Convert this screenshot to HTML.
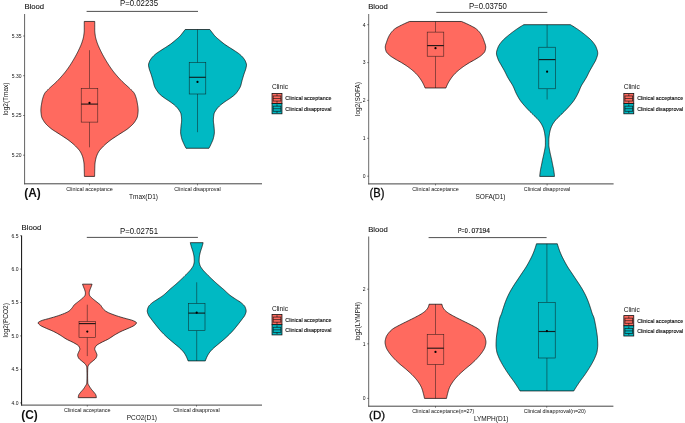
<!DOCTYPE html>
<html><head><meta charset="utf-8"><title>Violin plots</title>
<style>html,body{margin:0;padding:0;background:#fff}svg{display:block}text{font-family:"Liberation Sans",sans-serif;fill:#111}</style>
</head><body>
<svg width="685" height="423" viewBox="0 0 685 423">
<rect width="685" height="423" fill="#fff"/>
<g id="panelA">
<path d="M94.72,21.45 L94.72,22.20 L94.72,22.95 L94.72,23.70 L94.72,24.45 L94.72,25.20 L94.72,25.95 L94.72,26.70 L94.72,27.45 L94.72,28.20 L94.72,28.95 L94.72,29.70 L94.73,30.45 L94.75,31.20 L94.80,31.95 L94.87,32.70 L94.96,33.45 L95.05,34.20 L95.16,34.95 L95.27,35.70 L95.38,36.45 L95.52,37.20 L95.69,37.95 L95.88,38.70 L96.09,39.45 L96.31,40.20 L96.55,40.95 L96.79,41.70 L97.03,42.45 L97.30,43.20 L97.58,43.95 L97.87,44.70 L98.18,45.45 L98.51,46.20 L98.84,46.95 L99.18,47.70 L99.53,48.45 L99.89,49.20 L100.24,49.95 L100.60,50.70 L100.96,51.45 L101.34,52.20 L101.72,52.95 L102.11,53.70 L102.51,54.45 L102.91,55.20 L103.32,55.95 L103.74,56.70 L104.16,57.45 L104.59,58.20 L105.02,58.95 L105.46,59.70 L105.91,60.45 L106.36,61.20 L106.81,61.95 L107.28,62.70 L107.74,63.45 L108.22,64.20 L108.70,64.95 L109.20,65.70 L109.70,66.45 L110.21,67.20 L110.73,67.95 L111.26,68.70 L111.80,69.45 L112.35,70.20 L112.92,70.95 L113.50,71.70 L114.09,72.45 L114.70,73.20 L115.32,73.95 L115.96,74.70 L116.60,75.45 L117.26,76.20 L117.93,76.95 L118.60,77.70 L119.29,78.45 L119.99,79.20 L120.70,79.95 L121.42,80.70 L122.17,81.45 L122.95,82.20 L123.75,82.95 L124.57,83.70 L125.40,84.45 L126.24,85.20 L127.07,85.95 L127.90,86.70 L128.72,87.45 L129.51,88.20 L130.28,88.95 L131.03,89.70 L131.81,90.45 L132.58,91.20 L133.29,91.95 L133.89,92.70 L134.35,93.45 L134.75,94.20 L135.09,94.95 L135.39,95.70 L135.65,96.45 L135.90,97.20 L136.13,97.95 L136.35,98.70 L136.55,99.45 L136.73,100.20 L136.90,100.95 L137.05,101.70 L137.18,102.45 L137.31,103.20 L137.44,103.95 L137.57,104.70 L137.69,105.45 L137.80,106.20 L137.90,106.95 L137.99,107.70 L138.05,108.45 L138.09,109.20 L138.11,109.95 L138.11,110.70 L138.08,111.45 L138.02,112.20 L137.95,112.95 L137.87,113.70 L137.77,114.45 L137.66,115.20 L137.54,115.95 L137.39,116.70 L137.15,117.45 L136.84,118.20 L136.48,118.95 L136.06,119.70 L135.60,120.45 L135.12,121.20 L134.63,121.95 L134.10,122.70 L133.50,123.45 L132.83,124.20 L132.10,124.95 L131.31,125.70 L130.48,126.45 L129.62,127.20 L128.73,127.95 L127.81,128.70 L126.79,129.45 L125.69,130.20 L124.54,130.95 L123.35,131.70 L122.16,132.45 L120.96,133.20 L119.80,133.95 L118.67,134.70 L117.51,135.45 L116.34,136.20 L115.17,136.95 L114.01,137.70 L112.88,138.45 L111.79,139.20 L110.75,139.95 L109.77,140.70 L108.81,141.45 L107.87,142.20 L106.96,142.95 L106.08,143.70 L105.23,144.45 L104.42,145.20 L103.65,145.95 L102.92,146.70 L102.20,147.45 L101.48,148.20 L100.80,148.95 L100.15,149.70 L99.55,150.45 L99.00,151.20 L98.52,151.95 L98.11,152.70 L97.73,153.45 L97.37,154.20 L97.04,154.95 L96.74,155.70 L96.47,156.45 L96.22,157.20 L96.01,157.95 L95.83,158.70 L95.67,159.45 L95.50,160.20 L95.36,160.95 L95.22,161.70 L95.11,162.45 L95.02,163.20 L94.95,163.95 L94.90,164.70 L94.87,165.45 L94.84,166.20 L94.81,166.95 L94.79,167.70 L94.77,168.45 L94.75,169.20 L94.73,169.95 L94.71,170.70 L94.70,171.45 L94.68,172.20 L94.66,172.95 L94.65,173.70 L94.63,174.45 L94.62,175.20 L94.61,175.95 L94.60,176.40 L84.40,176.40 L84.39,175.95 L84.38,175.20 L84.37,174.45 L84.35,173.70 L84.34,172.95 L84.32,172.20 L84.30,171.45 L84.29,170.70 L84.27,169.95 L84.25,169.20 L84.23,168.45 L84.21,167.70 L84.19,166.95 L84.16,166.20 L84.13,165.45 L84.10,164.70 L84.05,163.95 L83.98,163.20 L83.89,162.45 L83.78,161.70 L83.64,160.95 L83.50,160.20 L83.33,159.45 L83.17,158.70 L82.99,157.95 L82.78,157.20 L82.53,156.45 L82.26,155.70 L81.96,154.95 L81.63,154.20 L81.27,153.45 L80.89,152.70 L80.48,151.95 L80.00,151.20 L79.45,150.45 L78.85,149.70 L78.20,148.95 L77.52,148.20 L76.80,147.45 L76.08,146.70 L75.35,145.95 L74.58,145.20 L73.77,144.45 L72.92,143.70 L72.04,142.95 L71.13,142.20 L70.19,141.45 L69.23,140.70 L68.25,139.95 L67.21,139.20 L66.12,138.45 L64.99,137.70 L63.83,136.95 L62.66,136.20 L61.49,135.45 L60.33,134.70 L59.20,133.95 L58.04,133.20 L56.84,132.45 L55.65,131.70 L54.46,130.95 L53.31,130.20 L52.21,129.45 L51.19,128.70 L50.27,127.95 L49.38,127.20 L48.52,126.45 L47.69,125.70 L46.90,124.95 L46.17,124.20 L45.50,123.45 L44.90,122.70 L44.37,121.95 L43.88,121.20 L43.40,120.45 L42.94,119.70 L42.52,118.95 L42.16,118.20 L41.85,117.45 L41.61,116.70 L41.46,115.95 L41.34,115.20 L41.23,114.45 L41.13,113.70 L41.05,112.95 L40.98,112.20 L40.92,111.45 L40.89,110.70 L40.89,109.95 L40.91,109.20 L40.95,108.45 L41.01,107.70 L41.10,106.95 L41.20,106.20 L41.31,105.45 L41.43,104.70 L41.56,103.95 L41.69,103.20 L41.82,102.45 L41.95,101.70 L42.10,100.95 L42.27,100.20 L42.45,99.45 L42.65,98.70 L42.87,97.95 L43.10,97.20 L43.35,96.45 L43.61,95.70 L43.91,94.95 L44.25,94.20 L44.65,93.45 L45.11,92.70 L45.71,91.95 L46.42,91.20 L47.19,90.45 L47.97,89.70 L48.72,88.95 L49.49,88.20 L50.28,87.45 L51.10,86.70 L51.93,85.95 L52.76,85.20 L53.60,84.45 L54.43,83.70 L55.25,82.95 L56.05,82.20 L56.83,81.45 L57.58,80.70 L58.30,79.95 L59.01,79.20 L59.71,78.45 L60.40,77.70 L61.07,76.95 L61.74,76.20 L62.40,75.45 L63.04,74.70 L63.68,73.95 L64.30,73.20 L64.91,72.45 L65.50,71.70 L66.08,70.95 L66.65,70.20 L67.20,69.45 L67.74,68.70 L68.27,67.95 L68.79,67.20 L69.30,66.45 L69.80,65.70 L70.30,64.95 L70.78,64.20 L71.26,63.45 L71.72,62.70 L72.19,61.95 L72.64,61.20 L73.09,60.45 L73.54,59.70 L73.98,58.95 L74.41,58.20 L74.84,57.45 L75.26,56.70 L75.68,55.95 L76.09,55.20 L76.49,54.45 L76.89,53.70 L77.28,52.95 L77.66,52.20 L78.04,51.45 L78.40,50.70 L78.76,49.95 L79.11,49.20 L79.47,48.45 L79.82,47.70 L80.16,46.95 L80.49,46.20 L80.82,45.45 L81.13,44.70 L81.42,43.95 L81.70,43.20 L81.97,42.45 L82.21,41.70 L82.45,40.95 L82.69,40.20 L82.91,39.45 L83.12,38.70 L83.31,37.95 L83.48,37.20 L83.62,36.45 L83.73,35.70 L83.84,34.95 L83.95,34.20 L84.04,33.45 L84.13,32.70 L84.20,31.95 L84.25,31.20 L84.27,30.45 L84.28,29.70 L84.28,28.95 L84.28,28.20 L84.28,27.45 L84.28,26.70 L84.28,25.95 L84.28,25.20 L84.28,24.45 L84.28,23.70 L84.28,22.95 L84.28,22.20 L84.28,21.45Z" fill="#FF6A5F" stroke="#111" stroke-width="0.75" stroke-linejoin="round"/>
<path d="M89.50,50.20V88.30M89.50,122.10V147.30" stroke="#111" stroke-width="0.55" fill="none" opacity="0.85"/>
<rect x="81.20" y="88.30" width="16.60" height="33.80" fill="#FF6A5F" stroke="#111" stroke-opacity="0.85" stroke-width="0.55"/>
<path d="M81.20,104.10H97.80" stroke="#111" stroke-width="1.15" fill="none" opacity="0.9"/>
<circle cx="89.50" cy="102.90" r="1.1" fill="#000"/>
<path d="M209.80,29.50 L210.37,30.25 L210.94,31.00 L211.52,31.75 L212.10,32.50 L212.67,33.25 L213.24,34.00 L213.82,34.75 L214.44,35.50 L215.13,36.25 L215.89,37.00 L216.70,37.75 L217.56,38.50 L218.44,39.25 L219.33,40.00 L220.21,40.75 L221.10,41.50 L222.01,42.25 L222.95,43.00 L223.92,43.75 L224.94,44.50 L226.03,45.25 L227.18,46.00 L228.37,46.75 L229.54,47.50 L230.72,48.25 L231.90,49.00 L233.09,49.75 L234.25,50.50 L235.38,51.25 L236.52,52.00 L237.64,52.75 L238.69,53.50 L239.64,54.25 L240.50,55.00 L241.31,55.75 L242.06,56.50 L242.76,57.25 L243.37,58.00 L243.92,58.75 L244.44,59.50 L244.90,60.25 L245.30,61.00 L245.62,61.75 L245.90,62.50 L246.17,63.25 L246.38,64.00 L246.49,64.75 L246.48,65.50 L246.37,66.25 L246.22,67.00 L246.03,67.75 L245.86,68.50 L245.65,69.25 L245.42,70.00 L245.16,70.75 L244.89,71.50 L244.61,72.25 L244.34,73.00 L244.08,73.75 L243.84,74.50 L243.60,75.25 L243.37,76.00 L243.14,76.75 L242.91,77.50 L242.69,78.25 L242.47,79.00 L242.26,79.75 L242.04,80.50 L241.85,81.25 L241.67,82.00 L241.49,82.75 L241.32,83.50 L241.13,84.25 L240.92,85.00 L240.69,85.75 L240.43,86.50 L240.09,87.25 L239.70,88.00 L239.26,88.75 L238.80,89.50 L238.32,90.25 L237.83,91.00 L237.31,91.75 L236.76,92.50 L236.15,93.25 L235.48,94.00 L234.72,94.75 L233.84,95.50 L232.88,96.25 L231.87,97.00 L230.84,97.75 L229.79,98.50 L228.67,99.25 L227.50,100.00 L226.33,100.75 L225.20,101.50 L224.15,102.25 L223.13,103.00 L222.13,103.75 L221.18,104.50 L220.28,105.25 L219.47,106.00 L218.72,106.75 L218.01,107.50 L217.35,108.25 L216.74,109.00 L216.20,109.75 L215.72,110.50 L215.25,111.25 L214.80,112.00 L214.42,112.75 L214.12,113.50 L213.95,114.25 L213.82,115.00 L213.71,115.75 L213.61,116.50 L213.53,117.25 L213.46,118.00 L213.41,118.75 L213.38,119.50 L213.37,120.25 L213.40,121.00 L213.45,121.75 L213.53,122.50 L213.62,123.25 L213.72,124.00 L213.82,124.75 L213.91,125.50 L213.98,126.25 L214.04,127.00 L214.11,127.75 L214.18,128.50 L214.24,129.25 L214.29,130.00 L214.34,130.75 L214.37,131.50 L214.37,132.25 L214.35,133.00 L214.28,133.75 L214.17,134.50 L214.04,135.25 L213.88,136.00 L213.72,136.75 L213.54,137.50 L213.36,138.25 L213.16,139.00 L212.91,139.75 L212.63,140.50 L212.31,141.25 L211.98,142.00 L211.64,142.75 L211.29,143.50 L210.95,144.25 L210.61,145.00 L210.25,145.75 L209.87,146.50 L209.49,147.25 L209.09,148.00 L208.95,148.26 L186.05,148.26 L185.91,148.00 L185.51,147.25 L185.13,146.50 L184.75,145.75 L184.39,145.00 L184.05,144.25 L183.71,143.50 L183.36,142.75 L183.02,142.00 L182.69,141.25 L182.37,140.50 L182.09,139.75 L181.84,139.00 L181.64,138.25 L181.46,137.50 L181.28,136.75 L181.12,136.00 L180.96,135.25 L180.83,134.50 L180.72,133.75 L180.65,133.00 L180.63,132.25 L180.63,131.50 L180.66,130.75 L180.71,130.00 L180.76,129.25 L180.82,128.50 L180.89,127.75 L180.96,127.00 L181.02,126.25 L181.09,125.50 L181.18,124.75 L181.28,124.00 L181.38,123.25 L181.47,122.50 L181.55,121.75 L181.60,121.00 L181.63,120.25 L181.62,119.50 L181.59,118.75 L181.54,118.00 L181.47,117.25 L181.39,116.50 L181.29,115.75 L181.18,115.00 L181.05,114.25 L180.88,113.50 L180.58,112.75 L180.20,112.00 L179.75,111.25 L179.28,110.50 L178.80,109.75 L178.26,109.00 L177.65,108.25 L176.99,107.50 L176.28,106.75 L175.53,106.00 L174.72,105.25 L173.82,104.50 L172.87,103.75 L171.87,103.00 L170.85,102.25 L169.80,101.50 L168.67,100.75 L167.50,100.00 L166.33,99.25 L165.21,98.50 L164.16,97.75 L163.13,97.00 L162.12,96.25 L161.16,95.50 L160.28,94.75 L159.52,94.00 L158.85,93.25 L158.24,92.50 L157.69,91.75 L157.17,91.00 L156.68,90.25 L156.20,89.50 L155.74,88.75 L155.30,88.00 L154.91,87.25 L154.57,86.50 L154.31,85.75 L154.08,85.00 L153.87,84.25 L153.68,83.50 L153.51,82.75 L153.33,82.00 L153.15,81.25 L152.96,80.50 L152.74,79.75 L152.53,79.00 L152.31,78.25 L152.09,77.50 L151.86,76.75 L151.63,76.00 L151.40,75.25 L151.16,74.50 L150.92,73.75 L150.66,73.00 L150.39,72.25 L150.11,71.50 L149.84,70.75 L149.58,70.00 L149.35,69.25 L149.14,68.50 L148.97,67.75 L148.78,67.00 L148.63,66.25 L148.52,65.50 L148.51,64.75 L148.62,64.00 L148.83,63.25 L149.10,62.50 L149.38,61.75 L149.70,61.00 L150.10,60.25 L150.56,59.50 L151.08,58.75 L151.63,58.00 L152.24,57.25 L152.94,56.50 L153.69,55.75 L154.50,55.00 L155.36,54.25 L156.31,53.50 L157.36,52.75 L158.48,52.00 L159.62,51.25 L160.75,50.50 L161.91,49.75 L163.10,49.00 L164.28,48.25 L165.46,47.50 L166.63,46.75 L167.82,46.00 L168.97,45.25 L170.06,44.50 L171.08,43.75 L172.05,43.00 L172.99,42.25 L173.90,41.50 L174.79,40.75 L175.67,40.00 L176.56,39.25 L177.44,38.50 L178.30,37.75 L179.11,37.00 L179.87,36.25 L180.56,35.50 L181.18,34.75 L181.76,34.00 L182.33,33.25 L182.90,32.50 L183.48,31.75 L184.06,31.00 L184.63,30.25 L185.20,29.50Z" fill="#00B9C3" stroke="#111" stroke-width="0.75" stroke-linejoin="round"/>
<path d="M197.50,29.50V62.60M197.50,94.00V132.20" stroke="#111" stroke-width="0.55" fill="none" opacity="0.85"/>
<rect x="189.20" y="62.60" width="16.60" height="31.40" fill="#00B9C3" stroke="#111" stroke-opacity="0.85" stroke-width="0.55"/>
<path d="M189.20,77.30H205.80" stroke="#111" stroke-width="1.15" fill="none" opacity="0.9"/>
<circle cx="197.50" cy="81.90" r="1.1" fill="#000"/>
<path d="M24.6,14.0V184.3" stroke="#3a3a3a" stroke-width="0.8" fill="none"/>
<path d="M24.200000000000003,183.8H262.0" stroke="#444" stroke-width="1.0" fill="none"/>
<path d="M23.00,36.0H24.6" stroke="#1a1a1a" stroke-width="0.5"/>
<text x="21.50" y="37.80" font-size="5" text-anchor="end" fill="#333">5.35</text>
<path d="M23.00,75.7H24.6" stroke="#1a1a1a" stroke-width="0.5"/>
<text x="21.50" y="77.50" font-size="5" text-anchor="end" fill="#333">5.30</text>
<path d="M23.00,115.5H24.6" stroke="#1a1a1a" stroke-width="0.5"/>
<text x="21.50" y="117.30" font-size="5" text-anchor="end" fill="#333">5.25</text>
<path d="M23.00,155.2H24.6" stroke="#1a1a1a" stroke-width="0.5"/>
<text x="21.50" y="157.00" font-size="5" text-anchor="end" fill="#333">5.20</text>
<path d="M89.5,183.8v1.6" stroke="#1a1a1a" stroke-width="0.5"/>
<path d="M197.5,183.8v1.6" stroke="#1a1a1a" stroke-width="0.5"/>
<text x="89.5" y="190.80" font-size="5.4" text-anchor="middle" fill="#333">Clinical acceptance</text>
<text x="197.5" y="190.80" font-size="5.4" text-anchor="middle" fill="#333">Clinical disapproval</text>
<text x="24.40" y="9.0" font-size="8.1" textLength="19.7" lengthAdjust="spacingAndGlyphs" fill="#000" stroke="#000" stroke-width="0.1">Blood</text>
<text x="120.00" y="6.4" font-size="8.8" textLength="38.0" lengthAdjust="spacingAndGlyphs" fill="#000">P=0.02235</text>
<path d="M86.6,11.4H198.0" stroke="#222" stroke-width="0.8"/>
<text transform="translate(8.2,98.90) rotate(-90)" font-size="6.5" text-anchor="middle" fill="#000">log2(Tmax)</text>
<text x="143.5" y="198.7" font-size="6.5" text-anchor="middle" fill="#000">Tmax(D1)</text>
<text x="24.2" y="197.4" font-size="11.9" font-weight="bold" fill="#000" stroke="#000" stroke-width="0">(A)</text>
<text x="271.9" y="89.4" font-size="7.3" textLength="16.1" lengthAdjust="spacingAndGlyphs" fill="#000">Clinic</text>
<rect x="272.05" y="93.40" width="9.9" height="10.2" fill="#FF6A5F" stroke="#111" stroke-width="0.8"/>
<rect x="273.15" y="95.95" width="7.70" height="5.10" fill="none" stroke="#111" stroke-width="0.75" opacity="0.85"/>
<path d="M273.15,98.50h7.70M277.00,94.20V95.95M277.00,101.05V102.80" stroke="#111" stroke-width="0.75" fill="none" opacity="0.85"/>
<text x="285.35" y="100.40" font-size="5.35" fill="#000" stroke="#000" stroke-width="0.12">Clinical acceptance</text>
<rect x="272.05" y="103.60" width="9.9" height="10.2" fill="#00B9C3" stroke="#111" stroke-width="0.8"/>
<rect x="273.15" y="106.15" width="7.70" height="5.10" fill="none" stroke="#111" stroke-width="0.75" opacity="0.85"/>
<path d="M273.15,108.70h7.70M277.00,104.40V106.15M277.00,111.25V113.00" stroke="#111" stroke-width="0.75" fill="none" opacity="0.85"/>
<text x="285.35" y="110.60" font-size="5.35" fill="#000" stroke="#000" stroke-width="0.12">Clinical disapproval</text>
</g>
<g id="panelB">
<path d="M461.41,21.47 L463.22,22.22 L464.96,22.97 L466.62,23.72 L468.21,24.47 L469.71,25.22 L471.20,25.97 L472.67,26.72 L474.05,27.47 L475.29,28.22 L476.32,28.97 L477.17,29.72 L477.95,30.47 L478.66,31.22 L479.31,31.97 L479.91,32.72 L480.46,33.47 L480.95,34.22 L481.41,34.97 L481.83,35.72 L482.22,36.47 L482.58,37.22 L482.91,37.97 L483.23,38.72 L483.52,39.47 L483.79,40.22 L484.05,40.97 L484.31,41.72 L484.57,42.47 L484.84,43.22 L485.10,43.97 L485.33,44.72 L485.52,45.47 L485.65,46.22 L485.72,46.97 L485.70,47.72 L485.62,48.47 L485.48,49.22 L485.29,49.97 L485.07,50.72 L484.82,51.47 L484.40,52.22 L483.81,52.97 L483.10,53.72 L482.31,54.47 L481.50,55.22 L480.59,55.97 L479.54,56.72 L478.37,57.47 L477.15,58.22 L475.91,58.97 L474.67,59.72 L473.36,60.47 L472.01,61.22 L470.65,61.97 L469.33,62.72 L468.10,63.47 L466.91,64.22 L465.75,64.97 L464.62,65.72 L463.54,66.47 L462.49,67.22 L461.48,67.97 L460.49,68.72 L459.54,69.47 L458.63,70.22 L457.76,70.97 L456.92,71.72 L456.12,72.47 L455.34,73.22 L454.60,73.97 L453.90,74.72 L453.24,75.47 L452.62,76.22 L452.04,76.97 L451.48,77.72 L450.95,78.47 L450.44,79.22 L449.94,79.97 L449.46,80.72 L449.00,81.47 L448.56,82.22 L448.15,82.97 L447.77,83.72 L447.40,84.47 L447.05,85.22 L446.72,85.97 L446.41,86.72 L446.12,87.47 L445.95,87.97 L425.05,87.97 L424.88,87.47 L424.59,86.72 L424.28,85.97 L423.95,85.22 L423.60,84.47 L423.23,83.72 L422.85,82.97 L422.44,82.22 L422.00,81.47 L421.54,80.72 L421.06,79.97 L420.56,79.22 L420.05,78.47 L419.52,77.72 L418.96,76.97 L418.38,76.22 L417.76,75.47 L417.10,74.72 L416.40,73.97 L415.66,73.22 L414.88,72.47 L414.08,71.72 L413.24,70.97 L412.37,70.22 L411.46,69.47 L410.51,68.72 L409.52,67.97 L408.51,67.22 L407.46,66.47 L406.38,65.72 L405.25,64.97 L404.09,64.22 L402.90,63.47 L401.67,62.72 L400.35,61.97 L398.99,61.22 L397.64,60.47 L396.33,59.72 L395.09,58.97 L393.85,58.22 L392.63,57.47 L391.46,56.72 L390.41,55.97 L389.50,55.22 L388.69,54.47 L387.90,53.72 L387.19,52.97 L386.60,52.22 L386.18,51.47 L385.93,50.72 L385.71,49.97 L385.52,49.22 L385.38,48.47 L385.30,47.72 L385.28,46.97 L385.35,46.22 L385.48,45.47 L385.67,44.72 L385.90,43.97 L386.16,43.22 L386.43,42.47 L386.69,41.72 L386.95,40.97 L387.21,40.22 L387.48,39.47 L387.77,38.72 L388.09,37.97 L388.42,37.22 L388.78,36.47 L389.17,35.72 L389.59,34.97 L390.05,34.22 L390.54,33.47 L391.09,32.72 L391.69,31.97 L392.34,31.22 L393.05,30.47 L393.83,29.72 L394.68,28.97 L395.71,28.22 L396.95,27.47 L398.33,26.72 L399.80,25.97 L401.29,25.22 L402.79,24.47 L404.38,23.72 L406.04,22.97 L407.78,22.22 L409.59,21.47Z" fill="#FF6A5F" stroke="#111" stroke-width="0.75" stroke-linejoin="round"/>
<path d="M435.50,21.50V32.10M435.50,56.20V88.00" stroke="#111" stroke-width="0.55" fill="none" opacity="0.85"/>
<rect x="427.20" y="32.10" width="16.60" height="24.10" fill="#FF6A5F" stroke="#111" stroke-opacity="0.85" stroke-width="0.55"/>
<path d="M427.20,45.60H443.80" stroke="#111" stroke-width="1.15" fill="none" opacity="0.9"/>
<circle cx="435.50" cy="48.20" r="1.1" fill="#000"/>
<path d="M570.40,24.69 L571.67,25.44 L572.91,26.19 L574.12,26.94 L575.30,27.69 L576.44,28.44 L577.55,29.19 L578.63,29.94 L579.69,30.69 L580.72,31.44 L581.73,32.19 L582.72,32.94 L583.68,33.69 L584.62,34.44 L585.53,35.19 L586.44,35.94 L587.35,36.69 L588.24,37.44 L589.11,38.19 L589.95,38.94 L590.73,39.69 L591.46,40.44 L592.12,41.19 L592.74,41.94 L593.34,42.69 L593.91,43.44 L594.46,44.19 L594.95,44.94 L595.40,45.69 L595.79,46.44 L596.12,47.19 L596.40,47.94 L596.69,48.69 L596.96,49.44 L597.20,50.19 L597.41,50.94 L597.58,51.69 L597.68,52.44 L597.72,53.19 L597.69,53.94 L597.58,54.69 L597.41,55.44 L597.20,56.19 L596.95,56.94 L596.68,57.69 L596.41,58.44 L596.13,59.19 L595.84,59.94 L595.50,60.69 L595.11,61.44 L594.69,62.19 L594.26,62.94 L593.81,63.69 L593.37,64.44 L592.94,65.19 L592.53,65.94 L592.10,66.69 L591.67,67.44 L591.23,68.19 L590.80,68.94 L590.37,69.69 L589.95,70.44 L589.54,71.19 L589.15,71.94 L588.78,72.69 L588.41,73.44 L588.05,74.19 L587.69,74.94 L587.32,75.69 L586.94,76.44 L586.55,77.19 L586.12,77.94 L585.67,78.69 L585.21,79.44 L584.75,80.19 L584.29,80.94 L583.82,81.69 L583.33,82.44 L582.85,83.19 L582.38,83.94 L581.93,84.69 L581.50,85.44 L581.11,86.19 L580.75,86.94 L580.41,87.69 L580.09,88.44 L579.79,89.19 L579.48,89.94 L579.18,90.69 L578.87,91.44 L578.54,92.19 L578.18,92.94 L577.81,93.69 L577.44,94.44 L577.05,95.19 L576.65,95.94 L576.24,96.69 L575.82,97.44 L575.38,98.19 L574.92,98.94 L574.44,99.69 L573.94,100.44 L573.40,101.19 L572.83,101.94 L572.24,102.69 L571.63,103.44 L571.00,104.19 L570.35,104.94 L569.69,105.69 L569.02,106.44 L568.35,107.19 L567.68,107.94 L566.99,108.69 L566.27,109.44 L565.54,110.19 L564.80,110.94 L564.05,111.69 L563.29,112.44 L562.53,113.19 L561.77,113.94 L561.01,114.69 L560.26,115.44 L559.48,116.19 L558.68,116.94 L557.90,117.69 L557.13,118.44 L556.41,119.19 L555.75,119.94 L555.14,120.69 L554.56,121.44 L554.00,122.19 L553.47,122.94 L552.99,123.69 L552.55,124.44 L552.16,125.19 L551.79,125.94 L551.45,126.69 L551.13,127.44 L550.84,128.19 L550.59,128.94 L550.36,129.69 L550.16,130.44 L549.98,131.19 L549.81,131.94 L549.66,132.69 L549.52,133.44 L549.40,134.19 L549.30,134.94 L549.19,135.69 L549.09,136.44 L548.99,137.19 L548.90,137.94 L548.84,138.69 L548.80,139.44 L548.80,140.19 L548.80,140.94 L548.80,141.69 L548.80,142.44 L548.80,143.19 L548.80,143.94 L548.80,144.69 L548.82,145.44 L548.89,146.19 L548.99,146.94 L549.11,147.69 L549.25,148.44 L549.39,149.19 L549.52,149.94 L549.66,150.69 L549.80,151.44 L549.96,152.19 L550.12,152.94 L550.28,153.69 L550.44,154.44 L550.61,155.19 L550.77,155.94 L550.95,156.69 L551.12,157.44 L551.30,158.19 L551.47,158.94 L551.63,159.69 L551.79,160.44 L551.95,161.19 L552.10,161.94 L552.24,162.69 L552.39,163.44 L552.54,164.19 L552.69,164.94 L552.84,165.69 L553.00,166.44 L553.16,167.19 L553.32,167.94 L553.47,168.69 L553.61,169.44 L553.73,170.19 L553.84,170.94 L553.95,171.69 L554.06,172.44 L554.16,173.19 L554.25,173.94 L554.33,174.69 L554.41,175.44 L554.48,176.19 L554.50,176.40 L539.70,176.40 L539.72,176.19 L539.79,175.44 L539.87,174.69 L539.95,173.94 L540.04,173.19 L540.14,172.44 L540.25,171.69 L540.36,170.94 L540.47,170.19 L540.59,169.44 L540.73,168.69 L540.88,167.94 L541.04,167.19 L541.20,166.44 L541.36,165.69 L541.51,164.94 L541.66,164.19 L541.81,163.44 L541.96,162.69 L542.10,161.94 L542.25,161.19 L542.41,160.44 L542.57,159.69 L542.73,158.94 L542.90,158.19 L543.08,157.44 L543.25,156.69 L543.43,155.94 L543.59,155.19 L543.76,154.44 L543.92,153.69 L544.08,152.94 L544.24,152.19 L544.40,151.44 L544.54,150.69 L544.68,149.94 L544.81,149.19 L544.95,148.44 L545.09,147.69 L545.21,146.94 L545.31,146.19 L545.38,145.44 L545.40,144.69 L545.40,143.94 L545.40,143.19 L545.40,142.44 L545.40,141.69 L545.40,140.94 L545.40,140.19 L545.40,139.44 L545.36,138.69 L545.30,137.94 L545.21,137.19 L545.11,136.44 L545.01,135.69 L544.90,134.94 L544.80,134.19 L544.68,133.44 L544.54,132.69 L544.39,131.94 L544.22,131.19 L544.04,130.44 L543.84,129.69 L543.61,128.94 L543.36,128.19 L543.07,127.44 L542.75,126.69 L542.41,125.94 L542.04,125.19 L541.65,124.44 L541.21,123.69 L540.73,122.94 L540.20,122.19 L539.64,121.44 L539.06,120.69 L538.45,119.94 L537.79,119.19 L537.07,118.44 L536.30,117.69 L535.52,116.94 L534.72,116.19 L533.94,115.44 L533.19,114.69 L532.43,113.94 L531.67,113.19 L530.91,112.44 L530.15,111.69 L529.40,110.94 L528.66,110.19 L527.93,109.44 L527.21,108.69 L526.52,107.94 L525.85,107.19 L525.18,106.44 L524.51,105.69 L523.85,104.94 L523.20,104.19 L522.57,103.44 L521.96,102.69 L521.37,101.94 L520.80,101.19 L520.26,100.44 L519.76,99.69 L519.28,98.94 L518.82,98.19 L518.38,97.44 L517.96,96.69 L517.55,95.94 L517.15,95.19 L516.76,94.44 L516.39,93.69 L516.02,92.94 L515.66,92.19 L515.33,91.44 L515.02,90.69 L514.72,89.94 L514.41,89.19 L514.11,88.44 L513.79,87.69 L513.45,86.94 L513.09,86.19 L512.70,85.44 L512.27,84.69 L511.82,83.94 L511.35,83.19 L510.87,82.44 L510.38,81.69 L509.91,80.94 L509.45,80.19 L508.99,79.44 L508.53,78.69 L508.08,77.94 L507.65,77.19 L507.26,76.44 L506.88,75.69 L506.51,74.94 L506.15,74.19 L505.79,73.44 L505.42,72.69 L505.05,71.94 L504.66,71.19 L504.25,70.44 L503.83,69.69 L503.40,68.94 L502.97,68.19 L502.53,67.44 L502.10,66.69 L501.67,65.94 L501.26,65.19 L500.83,64.44 L500.39,63.69 L499.94,62.94 L499.51,62.19 L499.09,61.44 L498.70,60.69 L498.36,59.94 L498.07,59.19 L497.79,58.44 L497.52,57.69 L497.25,56.94 L497.00,56.19 L496.79,55.44 L496.62,54.69 L496.51,53.94 L496.48,53.19 L496.52,52.44 L496.62,51.69 L496.79,50.94 L497.00,50.19 L497.24,49.44 L497.51,48.69 L497.80,47.94 L498.08,47.19 L498.41,46.44 L498.80,45.69 L499.25,44.94 L499.74,44.19 L500.29,43.44 L500.86,42.69 L501.46,41.94 L502.08,41.19 L502.74,40.44 L503.47,39.69 L504.25,38.94 L505.09,38.19 L505.96,37.44 L506.85,36.69 L507.76,35.94 L508.67,35.19 L509.58,34.44 L510.52,33.69 L511.48,32.94 L512.47,32.19 L513.48,31.44 L514.51,30.69 L515.57,29.94 L516.65,29.19 L517.76,28.44 L518.90,27.69 L520.08,26.94 L521.29,26.19 L522.53,25.44 L523.80,24.69Z" fill="#00B9C3" stroke="#111" stroke-width="0.75" stroke-linejoin="round"/>
<path d="M547.10,24.70V47.20M547.10,88.80V99.50" stroke="#111" stroke-width="0.55" fill="none" opacity="0.85"/>
<rect x="538.80" y="47.20" width="16.60" height="41.60" fill="#00B9C3" stroke="#111" stroke-opacity="0.85" stroke-width="0.55"/>
<path d="M538.80,59.60H555.40" stroke="#111" stroke-width="1.15" fill="none" opacity="0.9"/>
<circle cx="547.10" cy="71.70" r="1.1" fill="#000"/>
<path d="M368.7,14.0V184.4" stroke="#444" stroke-width="0.8" fill="none"/>
<path d="M368.3,183.9H613.6" stroke="#444" stroke-width="1.0" fill="none"/>
<path d="M367.10,24.7H368.7" stroke="#1a1a1a" stroke-width="0.5"/>
<text x="365.60" y="26.50" font-size="5" text-anchor="end" fill="#333">4</text>
<path d="M367.10,62.6H368.7" stroke="#1a1a1a" stroke-width="0.5"/>
<text x="365.60" y="64.40" font-size="5" text-anchor="end" fill="#333">3</text>
<path d="M367.10,100.4H368.7" stroke="#1a1a1a" stroke-width="0.5"/>
<text x="365.60" y="102.20" font-size="5" text-anchor="end" fill="#333">2</text>
<path d="M367.10,138.3H368.7" stroke="#1a1a1a" stroke-width="0.5"/>
<text x="365.60" y="140.10" font-size="5" text-anchor="end" fill="#333">1</text>
<path d="M367.10,176.2H368.7" stroke="#1a1a1a" stroke-width="0.5"/>
<text x="365.60" y="178.00" font-size="5" text-anchor="end" fill="#333">0</text>
<path d="M435.5,183.9v1.6" stroke="#1a1a1a" stroke-width="0.5"/>
<path d="M547.1,183.9v1.6" stroke="#1a1a1a" stroke-width="0.5"/>
<text x="435.5" y="190.80" font-size="5.4" text-anchor="middle" fill="#333">Clinical acceptance</text>
<text x="547.1" y="190.80" font-size="5.4" text-anchor="middle" fill="#333">Clinical disapproval</text>
<text x="368.20" y="9.0" font-size="8.1" textLength="19.7" lengthAdjust="spacingAndGlyphs" fill="#000" stroke="#000" stroke-width="0.1">Blood</text>
<text x="468.90" y="9.0" font-size="8.8" textLength="38.0" lengthAdjust="spacingAndGlyphs" fill="#000">P=0.03750</text>
<path d="M436.3,12.4H547.3" stroke="#222" stroke-width="0.8"/>
<text transform="translate(359.8,98.95) rotate(-90)" font-size="6.5" text-anchor="middle" fill="#000">log2(SOFA)</text>
<text x="490.5" y="198.7" font-size="6.5" text-anchor="middle" fill="#000">SOFA(D1)</text>
<text x="369.5" y="196.6" font-size="11.9" font-weight="normal" textLength="14.9" lengthAdjust="spacingAndGlyphs" fill="#000" stroke="#000" stroke-width="0.3">(B)</text>
<text x="623.7" y="89.4" font-size="7.3" textLength="16.1" lengthAdjust="spacingAndGlyphs" fill="#000">Clinic</text>
<rect x="623.85" y="93.40" width="9.9" height="10.2" fill="#FF6A5F" stroke="#111" stroke-width="0.8"/>
<rect x="624.95" y="95.95" width="7.70" height="5.10" fill="none" stroke="#111" stroke-width="0.75" opacity="0.85"/>
<path d="M624.95,98.50h7.70M628.80,94.20V95.95M628.80,101.05V102.80" stroke="#111" stroke-width="0.75" fill="none" opacity="0.85"/>
<text x="637.15" y="100.40" font-size="5.35" fill="#000" stroke="#000" stroke-width="0.12">Clinical acceptance</text>
<rect x="623.85" y="103.60" width="9.9" height="10.2" fill="#00B9C3" stroke="#111" stroke-width="0.8"/>
<rect x="624.95" y="106.15" width="7.70" height="5.10" fill="none" stroke="#111" stroke-width="0.75" opacity="0.85"/>
<path d="M624.95,108.70h7.70M628.80,104.40V106.15M628.80,111.25V113.00" stroke="#111" stroke-width="0.75" fill="none" opacity="0.85"/>
<text x="637.15" y="110.60" font-size="5.35" fill="#000" stroke="#000" stroke-width="0.12">Clinical disapproval</text>
</g>
<g id="panelC">
<path d="M92.07,284.17 L91.81,284.92 L91.54,285.67 L91.27,286.42 L90.99,287.17 L90.67,287.92 L90.35,288.67 L90.05,289.42 L89.81,290.17 L89.57,290.92 L89.36,291.67 L89.22,292.42 L89.19,293.17 L89.25,293.92 L89.35,294.67 L89.57,295.42 L90.09,296.17 L90.71,296.92 L91.45,297.67 L92.33,298.42 L93.22,299.17 L94.16,299.92 L95.11,300.67 L96.05,301.42 L96.99,302.17 L97.93,302.92 L98.94,303.67 L99.89,304.42 L100.60,305.17 L101.11,305.92 L101.60,306.67 L102.13,307.42 L102.68,308.17 L103.29,308.92 L103.96,309.67 L104.74,310.42 L105.71,311.17 L106.98,311.92 L108.45,312.67 L110.12,313.42 L112.04,314.17 L114.06,314.92 L116.19,315.67 L118.46,316.42 L120.90,317.17 L123.55,317.92 L126.22,318.67 L129.03,319.42 L131.78,320.17 L133.72,320.92 L135.29,321.67 L136.35,322.42 L136.45,323.17 L135.95,323.92 L135.15,324.67 L134.26,325.42 L133.01,326.17 L131.44,326.92 L129.74,327.67 L128.07,328.42 L126.32,329.17 L124.49,329.92 L122.71,330.67 L121.10,331.42 L119.61,332.17 L118.21,332.92 L116.87,333.67 L115.57,334.42 L114.31,335.17 L113.15,335.92 L112.04,336.67 L110.93,337.42 L109.79,338.17 L108.56,338.92 L107.17,339.67 L105.64,340.42 L104.03,341.17 L102.46,341.92 L101.00,342.67 L99.69,343.42 L98.37,344.17 L97.17,344.92 L96.24,345.67 L95.71,346.42 L95.28,347.17 L94.95,347.92 L94.76,348.67 L94.77,349.42 L95.01,350.17 L95.38,350.92 L95.77,351.67 L96.07,352.42 L96.40,353.17 L96.71,353.92 L96.91,354.67 L96.93,355.42 L96.77,356.17 L96.50,356.92 L96.15,357.67 L95.74,358.42 L95.05,359.17 L94.17,359.92 L93.24,360.67 L92.37,361.42 L91.44,362.17 L90.50,362.92 L89.68,363.67 L89.10,364.42 L88.60,365.17 L88.16,365.92 L87.88,366.67 L87.79,367.42 L87.75,368.17 L87.72,368.92 L87.69,369.67 L87.67,370.42 L87.65,371.17 L87.63,371.92 L87.62,372.67 L87.61,373.42 L87.60,374.17 L87.60,374.92 L87.60,375.67 L87.61,376.42 L87.61,377.17 L87.62,377.92 L87.63,378.67 L87.65,379.42 L87.67,380.17 L87.70,380.92 L87.73,381.67 L87.76,382.42 L87.80,383.17 L87.96,383.92 L88.33,384.67 L88.81,385.42 L89.28,386.17 L89.72,386.92 L90.20,387.67 L90.72,388.42 L91.27,389.17 L91.88,389.92 L92.55,390.67 L93.24,391.42 L93.87,392.17 L94.46,392.92 L95.05,393.67 L95.57,394.42 L95.91,395.17 L96.10,395.92 L96.25,396.67 L96.33,397.42 L96.34,397.68 L78.26,397.68 L78.27,397.42 L78.35,396.67 L78.50,395.92 L78.69,395.17 L79.03,394.42 L79.55,393.67 L80.14,392.92 L80.73,392.17 L81.36,391.42 L82.05,390.67 L82.72,389.92 L83.33,389.17 L83.88,388.42 L84.40,387.67 L84.88,386.92 L85.32,386.17 L85.79,385.42 L86.27,384.67 L86.64,383.92 L86.80,383.17 L86.84,382.42 L86.87,381.67 L86.90,380.92 L86.93,380.17 L86.95,379.42 L86.97,378.67 L86.98,377.92 L86.99,377.17 L86.99,376.42 L87.00,375.67 L87.00,374.92 L87.00,374.17 L86.99,373.42 L86.98,372.67 L86.97,371.92 L86.95,371.17 L86.93,370.42 L86.91,369.67 L86.88,368.92 L86.85,368.17 L86.81,367.42 L86.72,366.67 L86.44,365.92 L86.00,365.17 L85.50,364.42 L84.92,363.67 L84.10,362.92 L83.16,362.17 L82.23,361.42 L81.36,360.67 L80.43,359.92 L79.55,359.17 L78.86,358.42 L78.45,357.67 L78.10,356.92 L77.83,356.17 L77.67,355.42 L77.69,354.67 L77.89,353.92 L78.20,353.17 L78.53,352.42 L78.83,351.67 L79.22,350.92 L79.59,350.17 L79.83,349.42 L79.84,348.67 L79.65,347.92 L79.32,347.17 L78.89,346.42 L78.36,345.67 L77.43,344.92 L76.23,344.17 L74.91,343.42 L73.60,342.67 L72.14,341.92 L70.57,341.17 L68.96,340.42 L67.43,339.67 L66.04,338.92 L64.81,338.17 L63.67,337.42 L62.56,336.67 L61.45,335.92 L60.29,335.17 L59.03,334.42 L57.73,333.67 L56.39,332.92 L54.99,332.17 L53.50,331.42 L51.89,330.67 L50.11,329.92 L48.28,329.17 L46.53,328.42 L44.86,327.67 L43.16,326.92 L41.59,326.17 L40.34,325.42 L39.45,324.67 L38.65,323.92 L38.15,323.17 L38.25,322.42 L39.31,321.67 L40.88,320.92 L42.82,320.17 L45.57,319.42 L48.38,318.67 L51.05,317.92 L53.70,317.17 L56.14,316.42 L58.41,315.67 L60.54,314.92 L62.56,314.17 L64.48,313.42 L66.15,312.67 L67.62,311.92 L68.89,311.17 L69.86,310.42 L70.64,309.67 L71.31,308.92 L71.92,308.17 L72.47,307.42 L73.00,306.67 L73.49,305.92 L74.00,305.17 L74.71,304.42 L75.66,303.67 L76.67,302.92 L77.61,302.17 L78.55,301.42 L79.49,300.67 L80.44,299.92 L81.38,299.17 L82.27,298.42 L83.15,297.67 L83.89,296.92 L84.51,296.17 L85.03,295.42 L85.25,294.67 L85.35,293.92 L85.41,293.17 L85.38,292.42 L85.24,291.67 L85.03,290.92 L84.79,290.17 L84.55,289.42 L84.25,288.67 L83.93,287.92 L83.61,287.17 L83.33,286.42 L83.06,285.67 L82.79,284.92 L82.53,284.17Z" fill="#FF6A5F" stroke="#111" stroke-width="0.75" stroke-linejoin="round"/>
<path d="M87.30,304.70V321.60M87.30,337.30V356.10" stroke="#111" stroke-width="0.55" fill="none" opacity="0.85"/>
<rect x="79.00" y="321.60" width="16.60" height="15.70" fill="#FF6A5F" stroke="#111" stroke-opacity="0.85" stroke-width="0.55"/>
<path d="M79.00,323.60H95.60" stroke="#111" stroke-width="1.15" fill="none" opacity="0.9"/>
<circle cx="87.30" cy="331.60" r="1.1" fill="#000"/>
<path d="M203.13,242.68 L202.94,243.43 L202.74,244.18 L202.54,244.93 L202.33,245.68 L202.12,246.43 L201.90,247.18 L201.66,247.93 L201.41,248.68 L201.15,249.43 L200.90,250.18 L200.65,250.93 L200.43,251.68 L200.24,252.43 L200.05,253.18 L199.87,253.93 L199.70,254.68 L199.55,255.43 L199.42,256.18 L199.33,256.93 L199.27,257.68 L199.22,258.43 L199.17,259.18 L199.14,259.93 L199.11,260.68 L199.12,261.43 L199.18,262.18 L199.31,262.93 L199.49,263.68 L199.69,264.43 L199.91,265.18 L200.20,265.93 L200.60,266.68 L201.07,267.43 L201.59,268.18 L202.13,268.93 L202.69,269.68 L203.32,270.43 L203.99,271.18 L204.71,271.93 L205.43,272.68 L206.15,273.43 L206.87,274.18 L207.61,274.93 L208.37,275.68 L209.13,276.43 L209.90,277.18 L210.68,277.93 L211.46,278.68 L212.25,279.43 L213.04,280.18 L213.84,280.93 L214.65,281.68 L215.47,282.43 L216.30,283.18 L217.14,283.93 L218.01,284.68 L218.89,285.43 L219.78,286.18 L220.67,286.93 L221.56,287.68 L222.44,288.43 L223.30,289.18 L224.13,289.93 L224.94,290.68 L225.72,291.43 L226.50,292.18 L227.30,292.93 L228.11,293.68 L228.97,294.43 L229.88,295.18 L230.87,295.93 L231.94,296.68 L233.06,297.43 L234.20,298.18 L235.34,298.93 L236.49,299.68 L237.69,300.43 L238.90,301.18 L240.05,301.93 L241.07,302.68 L241.94,303.43 L242.78,304.18 L243.56,304.93 L244.25,305.68 L244.80,306.43 L245.16,307.18 L245.44,307.93 L245.70,308.68 L245.91,309.43 L246.05,310.18 L246.12,310.93 L246.08,311.68 L245.93,312.43 L245.69,313.18 L245.40,313.93 L245.09,314.68 L244.75,315.43 L244.32,316.18 L243.79,316.93 L243.21,317.68 L242.62,318.43 L242.05,319.18 L241.50,319.93 L240.94,320.68 L240.37,321.43 L239.80,322.18 L239.22,322.93 L238.63,323.68 L238.04,324.43 L237.44,325.18 L236.84,325.93 L236.24,326.68 L235.64,327.43 L235.03,328.18 L234.40,328.93 L233.77,329.68 L233.11,330.43 L232.44,331.18 L231.75,331.93 L231.04,332.68 L230.31,333.43 L229.57,334.18 L228.80,334.93 L228.03,335.68 L227.24,336.43 L226.44,337.18 L225.62,337.93 L224.77,338.68 L223.89,339.43 L223.01,340.18 L222.11,340.93 L221.22,341.68 L220.32,342.43 L219.44,343.18 L218.55,343.93 L217.64,344.68 L216.72,345.43 L215.80,346.18 L214.90,346.93 L214.02,347.68 L213.20,348.43 L212.43,349.18 L211.71,349.93 L211.01,350.68 L210.35,351.43 L209.74,352.18 L209.18,352.93 L208.68,353.68 L208.22,354.43 L207.79,355.18 L207.39,355.93 L207.02,356.68 L206.67,357.43 L206.35,358.18 L206.04,358.93 L205.75,359.68 L205.49,360.43 L205.34,360.89 L188.06,360.89 L187.91,360.43 L187.65,359.68 L187.36,358.93 L187.05,358.18 L186.73,357.43 L186.38,356.68 L186.01,355.93 L185.61,355.18 L185.18,354.43 L184.72,353.68 L184.22,352.93 L183.66,352.18 L183.05,351.43 L182.39,350.68 L181.69,349.93 L180.97,349.18 L180.20,348.43 L179.38,347.68 L178.50,346.93 L177.60,346.18 L176.68,345.43 L175.76,344.68 L174.85,343.93 L173.96,343.18 L173.08,342.43 L172.18,341.68 L171.29,340.93 L170.39,340.18 L169.51,339.43 L168.63,338.68 L167.78,337.93 L166.96,337.18 L166.16,336.43 L165.37,335.68 L164.60,334.93 L163.83,334.18 L163.09,333.43 L162.36,332.68 L161.65,331.93 L160.96,331.18 L160.29,330.43 L159.63,329.68 L159.00,328.93 L158.37,328.18 L157.76,327.43 L157.16,326.68 L156.56,325.93 L155.96,325.18 L155.36,324.43 L154.77,323.68 L154.18,322.93 L153.60,322.18 L153.03,321.43 L152.46,320.68 L151.90,319.93 L151.35,319.18 L150.78,318.43 L150.19,317.68 L149.61,316.93 L149.08,316.18 L148.65,315.43 L148.31,314.68 L148.00,313.93 L147.71,313.18 L147.47,312.43 L147.32,311.68 L147.28,310.93 L147.35,310.18 L147.49,309.43 L147.70,308.68 L147.96,307.93 L148.24,307.18 L148.60,306.43 L149.15,305.68 L149.84,304.93 L150.62,304.18 L151.46,303.43 L152.33,302.68 L153.35,301.93 L154.50,301.18 L155.71,300.43 L156.91,299.68 L158.06,298.93 L159.20,298.18 L160.34,297.43 L161.46,296.68 L162.53,295.93 L163.52,295.18 L164.43,294.43 L165.29,293.68 L166.10,292.93 L166.90,292.18 L167.68,291.43 L168.46,290.68 L169.27,289.93 L170.10,289.18 L170.96,288.43 L171.84,287.68 L172.73,286.93 L173.62,286.18 L174.51,285.43 L175.39,284.68 L176.26,283.93 L177.10,283.18 L177.93,282.43 L178.75,281.68 L179.56,280.93 L180.36,280.18 L181.15,279.43 L181.94,278.68 L182.72,277.93 L183.50,277.18 L184.27,276.43 L185.03,275.68 L185.79,274.93 L186.53,274.18 L187.25,273.43 L187.97,272.68 L188.69,271.93 L189.41,271.18 L190.08,270.43 L190.71,269.68 L191.27,268.93 L191.81,268.18 L192.33,267.43 L192.80,266.68 L193.20,265.93 L193.49,265.18 L193.71,264.43 L193.91,263.68 L194.09,262.93 L194.22,262.18 L194.28,261.43 L194.29,260.68 L194.26,259.93 L194.23,259.18 L194.18,258.43 L194.13,257.68 L194.07,256.93 L193.98,256.18 L193.85,255.43 L193.70,254.68 L193.53,253.93 L193.35,253.18 L193.16,252.43 L192.97,251.68 L192.75,250.93 L192.50,250.18 L192.25,249.43 L191.99,248.68 L191.74,247.93 L191.50,247.18 L191.28,246.43 L191.07,245.68 L190.86,244.93 L190.66,244.18 L190.46,243.43 L190.27,242.68Z" fill="#00B9C3" stroke="#111" stroke-width="0.75" stroke-linejoin="round"/>
<path d="M196.70,282.30V303.50M196.70,330.60V360.90" stroke="#111" stroke-width="0.55" fill="none" opacity="0.85"/>
<rect x="188.40" y="303.50" width="16.60" height="27.10" fill="#00B9C3" stroke="#111" stroke-opacity="0.85" stroke-width="0.55"/>
<path d="M188.40,313.10H205.00" stroke="#111" stroke-width="1.15" fill="none" opacity="0.9"/>
<circle cx="196.70" cy="312.70" r="1.1" fill="#000"/>
<path d="M21.6,235.5V405.6" stroke="#0a0a0a" stroke-width="1.0" fill="none"/>
<path d="M21.1,405.1H262.0" stroke="#444" stroke-width="1.0" fill="none"/>
<path d="M20.00,235.7H21.6" stroke="#1a1a1a" stroke-width="0.5"/>
<text x="18.50" y="237.50" font-size="5" text-anchor="end" fill="#333">6.5</text>
<path d="M20.00,269.1H21.6" stroke="#1a1a1a" stroke-width="0.5"/>
<text x="18.50" y="270.90" font-size="5" text-anchor="end" fill="#333">6.0</text>
<path d="M20.00,302.5H21.6" stroke="#1a1a1a" stroke-width="0.5"/>
<text x="18.50" y="304.30" font-size="5" text-anchor="end" fill="#333">5.5</text>
<path d="M20.00,335.9H21.6" stroke="#1a1a1a" stroke-width="0.5"/>
<text x="18.50" y="337.70" font-size="5" text-anchor="end" fill="#333">5.0</text>
<path d="M20.00,369.3H21.6" stroke="#1a1a1a" stroke-width="0.5"/>
<text x="18.50" y="371.10" font-size="5" text-anchor="end" fill="#333">4.5</text>
<path d="M20.00,402.9H21.6" stroke="#1a1a1a" stroke-width="0.5"/>
<text x="18.50" y="404.70" font-size="5" text-anchor="end" fill="#333">4.0</text>
<path d="M87.3,405.1v1.6" stroke="#1a1a1a" stroke-width="0.5"/>
<path d="M196.5,405.1v1.6" stroke="#1a1a1a" stroke-width="0.5"/>
<text x="87.3" y="412.10" font-size="5.4" text-anchor="middle" fill="#333">Clinical acceptance</text>
<text x="196.5" y="412.10" font-size="5.4" text-anchor="middle" fill="#333">Clinical disapproval</text>
<text x="21.60" y="230.1" font-size="8.1" textLength="19.7" lengthAdjust="spacingAndGlyphs" fill="#000" stroke="#000" stroke-width="0.1">Blood</text>
<text x="120.00" y="234.4" font-size="8.8" textLength="38.0" lengthAdjust="spacingAndGlyphs" fill="#000">P=0.02751</text>
<path d="M86.8,237.4H197.9" stroke="#222" stroke-width="0.8"/>
<text transform="translate(8.1,320.30) rotate(-90)" font-size="6.5" text-anchor="middle" fill="#000">log2(PCO2)</text>
<text x="141.8" y="420.0" font-size="6.5" text-anchor="middle" fill="#000">PCO2(D1)</text>
<text x="21.2" y="418.6" font-size="11.9" font-weight="bold" fill="#000" stroke="#000" stroke-width="0">(C)</text>
<text x="271.9" y="310.5" font-size="7.3" textLength="16.1" lengthAdjust="spacingAndGlyphs" fill="#000">Clinic</text>
<rect x="272.05" y="314.50" width="9.9" height="10.2" fill="#FF6A5F" stroke="#111" stroke-width="0.8"/>
<rect x="273.15" y="317.05" width="7.70" height="5.10" fill="none" stroke="#111" stroke-width="0.75" opacity="0.85"/>
<path d="M273.15,319.60h7.70M277.00,315.30V317.05M277.00,322.15V323.90" stroke="#111" stroke-width="0.75" fill="none" opacity="0.85"/>
<text x="285.35" y="321.50" font-size="5.35" fill="#000" stroke="#000" stroke-width="0.12">Clinical acceptance</text>
<rect x="272.05" y="324.70" width="9.9" height="10.2" fill="#00B9C3" stroke="#111" stroke-width="0.8"/>
<rect x="273.15" y="327.25" width="7.70" height="5.10" fill="none" stroke="#111" stroke-width="0.75" opacity="0.85"/>
<path d="M273.15,329.80h7.70M277.00,325.50V327.25M277.00,332.35V334.10" stroke="#111" stroke-width="0.75" fill="none" opacity="0.85"/>
<text x="285.35" y="331.70" font-size="5.35" fill="#000" stroke="#000" stroke-width="0.12">Clinical disapproval</text>
</g>
<g id="panelD">
<path d="M441.93,304.24 L442.05,304.99 L442.25,305.74 L442.51,306.49 L442.81,307.24 L443.20,307.99 L443.69,308.74 L444.26,309.49 L444.89,310.24 L445.66,310.99 L446.55,311.74 L447.54,312.49 L448.59,313.24 L449.75,313.99 L451.02,314.74 L452.38,315.49 L453.78,316.24 L455.19,316.99 L456.61,317.74 L458.10,318.49 L459.61,319.24 L461.14,319.99 L462.67,320.74 L464.18,321.49 L465.70,322.24 L467.24,322.99 L468.75,323.74 L470.23,324.49 L471.66,325.24 L473.09,325.99 L474.52,326.74 L475.90,327.49 L477.18,328.24 L478.28,328.99 L479.22,329.74 L480.07,330.49 L480.84,331.24 L481.54,331.99 L482.18,332.74 L482.75,333.49 L483.30,334.24 L483.82,334.99 L484.27,335.74 L484.66,336.49 L484.93,337.24 L485.16,337.99 L485.37,338.74 L485.56,339.49 L485.72,340.24 L485.84,340.99 L485.91,341.74 L485.92,342.49 L485.86,343.24 L485.75,343.99 L485.60,344.74 L485.41,345.49 L485.21,346.24 L484.99,346.99 L484.75,347.74 L484.42,348.49 L484.03,349.24 L483.59,349.99 L483.11,350.74 L482.61,351.49 L482.11,352.24 L481.60,352.99 L481.04,353.74 L480.46,354.49 L479.85,355.24 L479.21,355.99 L478.56,356.74 L477.89,357.49 L477.21,358.24 L476.50,358.99 L475.77,359.74 L475.02,360.49 L474.25,361.24 L473.46,361.99 L472.66,362.74 L471.85,363.49 L471.01,364.24 L470.13,364.99 L469.23,365.74 L468.31,366.49 L467.39,367.24 L466.47,367.99 L465.56,368.74 L464.68,369.49 L463.83,370.24 L462.99,370.99 L462.15,371.74 L461.32,372.49 L460.50,373.24 L459.70,373.99 L458.93,374.74 L458.19,375.49 L457.48,376.24 L456.78,376.99 L456.10,377.74 L455.44,378.49 L454.80,379.24 L454.19,379.99 L453.60,380.74 L453.05,381.49 L452.54,382.24 L452.04,382.99 L451.56,383.74 L451.09,384.49 L450.65,385.24 L450.24,385.99 L449.85,386.74 L449.51,387.49 L449.21,388.24 L448.93,388.99 L448.68,389.74 L448.45,390.49 L448.23,391.24 L448.02,391.99 L447.82,392.74 L447.63,393.49 L447.44,394.24 L447.25,394.99 L447.07,395.74 L446.90,396.49 L446.74,397.24 L446.58,397.99 L446.50,398.40 L424.50,398.40 L424.42,397.99 L424.26,397.24 L424.10,396.49 L423.93,395.74 L423.75,394.99 L423.56,394.24 L423.37,393.49 L423.18,392.74 L422.98,391.99 L422.77,391.24 L422.55,390.49 L422.32,389.74 L422.07,388.99 L421.79,388.24 L421.49,387.49 L421.15,386.74 L420.76,385.99 L420.35,385.24 L419.91,384.49 L419.44,383.74 L418.96,382.99 L418.46,382.24 L417.95,381.49 L417.40,380.74 L416.81,379.99 L416.20,379.24 L415.56,378.49 L414.90,377.74 L414.22,376.99 L413.52,376.24 L412.81,375.49 L412.07,374.74 L411.30,373.99 L410.50,373.24 L409.68,372.49 L408.85,371.74 L408.01,370.99 L407.17,370.24 L406.32,369.49 L405.44,368.74 L404.53,367.99 L403.61,367.24 L402.69,366.49 L401.77,365.74 L400.87,364.99 L399.99,364.24 L399.15,363.49 L398.34,362.74 L397.54,361.99 L396.75,361.24 L395.98,360.49 L395.23,359.74 L394.50,358.99 L393.79,358.24 L393.11,357.49 L392.44,356.74 L391.79,355.99 L391.15,355.24 L390.54,354.49 L389.96,353.74 L389.40,352.99 L388.89,352.24 L388.39,351.49 L387.89,350.74 L387.41,349.99 L386.97,349.24 L386.58,348.49 L386.25,347.74 L386.01,346.99 L385.79,346.24 L385.59,345.49 L385.40,344.74 L385.25,343.99 L385.14,343.24 L385.08,342.49 L385.09,341.74 L385.16,340.99 L385.28,340.24 L385.44,339.49 L385.63,338.74 L385.84,337.99 L386.07,337.24 L386.34,336.49 L386.73,335.74 L387.18,334.99 L387.70,334.24 L388.25,333.49 L388.82,332.74 L389.46,331.99 L390.16,331.24 L390.93,330.49 L391.78,329.74 L392.72,328.99 L393.82,328.24 L395.10,327.49 L396.48,326.74 L397.91,325.99 L399.34,325.24 L400.77,324.49 L402.25,323.74 L403.76,322.99 L405.30,322.24 L406.82,321.49 L408.33,320.74 L409.86,319.99 L411.39,319.24 L412.90,318.49 L414.39,317.74 L415.81,316.99 L417.22,316.24 L418.62,315.49 L419.98,314.74 L421.25,313.99 L422.41,313.24 L423.46,312.49 L424.45,311.74 L425.34,310.99 L426.11,310.24 L426.74,309.49 L427.31,308.74 L427.80,307.99 L428.19,307.24 L428.49,306.49 L428.75,305.74 L428.95,304.99 L429.07,304.24Z" fill="#FF6A5F" stroke="#111" stroke-width="0.75" stroke-linejoin="round"/>
<path d="M435.50,304.20V334.40M435.50,364.30V398.40" stroke="#111" stroke-width="0.55" fill="none" opacity="0.85"/>
<rect x="427.20" y="334.40" width="16.60" height="29.90" fill="#FF6A5F" stroke="#111" stroke-opacity="0.85" stroke-width="0.55"/>
<path d="M427.20,348.20H443.80" stroke="#111" stroke-width="1.15" fill="none" opacity="0.9"/>
<circle cx="435.50" cy="351.90" r="1.1" fill="#000"/>
<path d="M557.35,243.84 L557.55,244.59 L557.76,245.34 L557.99,246.09 L558.22,246.84 L558.46,247.59 L558.71,248.34 L558.96,249.09 L559.23,249.84 L559.51,250.59 L559.79,251.34 L560.09,252.09 L560.40,252.84 L560.71,253.59 L561.03,254.34 L561.36,255.09 L561.70,255.84 L562.06,256.59 L562.42,257.34 L562.80,258.09 L563.18,258.84 L563.57,259.59 L563.97,260.34 L564.36,261.09 L564.76,261.84 L565.17,262.59 L565.58,263.34 L566.00,264.09 L566.43,264.84 L566.86,265.59 L567.31,266.34 L567.76,267.09 L568.23,267.84 L568.71,268.59 L569.21,269.34 L569.72,270.09 L570.23,270.84 L570.74,271.59 L571.25,272.34 L571.76,273.09 L572.26,273.84 L572.76,274.59 L573.26,275.34 L573.76,276.09 L574.26,276.84 L574.76,277.59 L575.26,278.34 L575.76,279.09 L576.26,279.84 L576.77,280.59 L577.27,281.34 L577.78,282.09 L578.29,282.84 L578.79,283.59 L579.28,284.34 L579.76,285.09 L580.23,285.84 L580.70,286.59 L581.17,287.34 L581.63,288.09 L582.08,288.84 L582.52,289.59 L582.96,290.34 L583.37,291.09 L583.78,291.84 L584.18,292.59 L584.57,293.34 L584.96,294.09 L585.33,294.84 L585.70,295.59 L586.05,296.34 L586.39,297.09 L586.72,297.84 L587.04,298.59 L587.36,299.34 L587.66,300.09 L587.96,300.84 L588.25,301.59 L588.53,302.34 L588.81,303.09 L589.08,303.84 L589.34,304.59 L589.59,305.34 L589.84,306.09 L590.09,306.84 L590.33,307.59 L590.57,308.34 L590.82,309.09 L591.06,309.84 L591.29,310.59 L591.51,311.34 L591.74,312.09 L591.97,312.84 L592.22,313.59 L592.50,314.34 L592.83,315.09 L593.20,315.84 L593.55,316.59 L593.81,317.34 L594.03,318.09 L594.22,318.84 L594.40,319.59 L594.57,320.34 L594.72,321.09 L594.87,321.84 L595.02,322.59 L595.17,323.34 L595.32,324.09 L595.47,324.84 L595.61,325.59 L595.74,326.34 L595.88,327.09 L596.01,327.84 L596.13,328.59 L596.25,329.34 L596.37,330.09 L596.48,330.84 L596.59,331.59 L596.71,332.34 L596.82,333.09 L596.94,333.84 L597.05,334.59 L597.15,335.34 L597.25,336.09 L597.34,336.84 L597.41,337.59 L597.47,338.34 L597.52,339.09 L597.56,339.84 L597.60,340.59 L597.63,341.34 L597.66,342.09 L597.69,342.84 L597.71,343.59 L597.72,344.34 L597.72,345.09 L597.71,345.84 L597.68,346.59 L597.62,347.34 L597.54,348.09 L597.46,348.84 L597.35,349.59 L597.25,350.34 L597.13,351.09 L596.99,351.84 L596.81,352.59 L596.59,353.34 L596.33,354.09 L596.05,354.84 L595.76,355.59 L595.45,356.34 L595.15,357.09 L594.84,357.84 L594.50,358.59 L594.15,359.34 L593.77,360.09 L593.38,360.84 L592.98,361.59 L592.58,362.34 L592.17,363.09 L591.75,363.84 L591.33,364.59 L590.89,365.34 L590.44,366.09 L589.98,366.84 L589.52,367.59 L589.05,368.34 L588.58,369.09 L588.10,369.84 L587.62,370.59 L587.13,371.34 L586.63,372.09 L586.13,372.84 L585.62,373.59 L585.11,374.34 L584.59,375.09 L584.06,375.84 L583.51,376.59 L582.96,377.34 L582.40,378.09 L581.84,378.84 L581.28,379.59 L580.73,380.34 L580.19,381.09 L579.67,381.84 L579.15,382.59 L578.64,383.34 L578.13,384.09 L577.64,384.84 L577.14,385.59 L576.66,386.34 L576.17,387.09 L575.70,387.84 L575.23,388.59 L574.77,389.34 L574.32,390.09 L573.87,390.84 L573.82,390.93 L519.98,390.93 L519.93,390.84 L519.48,390.09 L519.03,389.34 L518.57,388.59 L518.10,387.84 L517.63,387.09 L517.14,386.34 L516.66,385.59 L516.16,384.84 L515.67,384.09 L515.16,383.34 L514.65,382.59 L514.13,381.84 L513.61,381.09 L513.07,380.34 L512.52,379.59 L511.96,378.84 L511.40,378.09 L510.84,377.34 L510.29,376.59 L509.74,375.84 L509.21,375.09 L508.69,374.34 L508.18,373.59 L507.67,372.84 L507.17,372.09 L506.67,371.34 L506.18,370.59 L505.70,369.84 L505.22,369.09 L504.75,368.34 L504.28,367.59 L503.82,366.84 L503.36,366.09 L502.91,365.34 L502.47,364.59 L502.05,363.84 L501.63,363.09 L501.22,362.34 L500.82,361.59 L500.42,360.84 L500.03,360.09 L499.65,359.34 L499.30,358.59 L498.96,357.84 L498.65,357.09 L498.35,356.34 L498.04,355.59 L497.75,354.84 L497.47,354.09 L497.21,353.34 L496.99,352.59 L496.81,351.84 L496.67,351.09 L496.55,350.34 L496.45,349.59 L496.34,348.84 L496.26,348.09 L496.18,347.34 L496.12,346.59 L496.09,345.84 L496.08,345.09 L496.08,344.34 L496.09,343.59 L496.11,342.84 L496.14,342.09 L496.17,341.34 L496.20,340.59 L496.24,339.84 L496.28,339.09 L496.33,338.34 L496.39,337.59 L496.46,336.84 L496.55,336.09 L496.65,335.34 L496.75,334.59 L496.86,333.84 L496.98,333.09 L497.09,332.34 L497.21,331.59 L497.32,330.84 L497.43,330.09 L497.55,329.34 L497.67,328.59 L497.79,327.84 L497.92,327.09 L498.06,326.34 L498.19,325.59 L498.33,324.84 L498.48,324.09 L498.63,323.34 L498.78,322.59 L498.93,321.84 L499.08,321.09 L499.23,320.34 L499.40,319.59 L499.58,318.84 L499.77,318.09 L499.99,317.34 L500.25,316.59 L500.60,315.84 L500.97,315.09 L501.30,314.34 L501.58,313.59 L501.83,312.84 L502.06,312.09 L502.29,311.34 L502.51,310.59 L502.74,309.84 L502.98,309.09 L503.23,308.34 L503.47,307.59 L503.71,306.84 L503.96,306.09 L504.21,305.34 L504.46,304.59 L504.72,303.84 L504.99,303.09 L505.27,302.34 L505.55,301.59 L505.84,300.84 L506.14,300.09 L506.44,299.34 L506.76,298.59 L507.08,297.84 L507.41,297.09 L507.75,296.34 L508.10,295.59 L508.47,294.84 L508.84,294.09 L509.23,293.34 L509.62,292.59 L510.02,291.84 L510.43,291.09 L510.84,290.34 L511.28,289.59 L511.72,288.84 L512.17,288.09 L512.63,287.34 L513.10,286.59 L513.57,285.84 L514.04,285.09 L514.52,284.34 L515.01,283.59 L515.51,282.84 L516.02,282.09 L516.53,281.34 L517.03,280.59 L517.54,279.84 L518.04,279.09 L518.54,278.34 L519.04,277.59 L519.54,276.84 L520.04,276.09 L520.54,275.34 L521.04,274.59 L521.54,273.84 L522.04,273.09 L522.55,272.34 L523.06,271.59 L523.57,270.84 L524.08,270.09 L524.59,269.34 L525.09,268.59 L525.57,267.84 L526.04,267.09 L526.49,266.34 L526.94,265.59 L527.37,264.84 L527.80,264.09 L528.22,263.34 L528.63,262.59 L529.04,261.84 L529.44,261.09 L529.83,260.34 L530.23,259.59 L530.62,258.84 L531.00,258.09 L531.38,257.34 L531.74,256.59 L532.10,255.84 L532.44,255.09 L532.77,254.34 L533.09,253.59 L533.40,252.84 L533.71,252.09 L534.01,251.34 L534.29,250.59 L534.57,249.84 L534.84,249.09 L535.09,248.34 L535.34,247.59 L535.58,246.84 L535.81,246.09 L536.04,245.34 L536.25,244.59 L536.45,243.84Z" fill="#00B9C3" stroke="#111" stroke-width="0.75" stroke-linejoin="round"/>
<path d="M546.90,243.80V302.30M546.90,358.00V390.90" stroke="#111" stroke-width="0.55" fill="none" opacity="0.85"/>
<rect x="538.60" y="302.30" width="16.60" height="55.70" fill="#00B9C3" stroke="#111" stroke-opacity="0.85" stroke-width="0.55"/>
<path d="M538.60,331.50H555.20" stroke="#111" stroke-width="1.15" fill="none" opacity="0.9"/>
<circle cx="546.90" cy="331.10" r="1.1" fill="#000"/>
<path d="M368.7,236.5V406.7" stroke="#3a3a3a" stroke-width="0.8" fill="none"/>
<path d="M368.3,406.2H613.4" stroke="#444" stroke-width="1.0" fill="none"/>
<path d="M367.10,289.2H368.7" stroke="#1a1a1a" stroke-width="0.5"/>
<text x="365.60" y="291.00" font-size="5" text-anchor="end" fill="#333">2</text>
<path d="M367.10,343.8H368.7" stroke="#1a1a1a" stroke-width="0.5"/>
<text x="365.60" y="345.60" font-size="5" text-anchor="end" fill="#333">1</text>
<path d="M367.10,398.4H368.7" stroke="#1a1a1a" stroke-width="0.5"/>
<text x="365.60" y="400.20" font-size="5" text-anchor="end" fill="#333">0</text>
<path d="M435.5,406.2v1.6" stroke="#1a1a1a" stroke-width="0.5"/>
<path d="M546.7,406.2v1.6" stroke="#1a1a1a" stroke-width="0.5"/>
<text x="443.3" y="413.10" font-size="5.4" text-anchor="middle" fill="#333">Clinical acceptance(n=27)</text>
<text x="554.8" y="413.10" font-size="5.4" text-anchor="middle" fill="#333">Clinical disapproval(n=20)</text>
<text x="368.20" y="231.5" font-size="8.1" textLength="19.7" lengthAdjust="spacingAndGlyphs" fill="#000" stroke="#000" stroke-width="0.1">Blood</text>
<text y="233.0" font-size="6.7" fill="#111" stroke="#111" stroke-width="0.15"><tspan x="458" textLength="9.7" lengthAdjust="spacingAndGlyphs">P=0</tspan><tspan x="468.4">.</tspan><tspan x="471.5" textLength="18.5" lengthAdjust="spacingAndGlyphs">07194</tspan></text>
<path d="M428.6,237.6H546.6" stroke="#222" stroke-width="0.8"/>
<text transform="translate(359.9,321.35) rotate(-90)" font-size="6.5" text-anchor="middle" fill="#000">log2(LYMPH)</text>
<text x="491.2" y="421.0" font-size="6.5" text-anchor="middle" fill="#000">LYMPH(D1)</text>
<text x="369.1" y="419.1" font-size="11.6" font-weight="normal" textLength="16.0" lengthAdjust="spacingAndGlyphs" fill="#000" stroke="#000" stroke-width="0.3">(D)</text>
<text x="623.7" y="311.59999999999997" font-size="7.3" textLength="16.1" lengthAdjust="spacingAndGlyphs" fill="#000">Clinic</text>
<rect x="623.85" y="315.60" width="9.9" height="10.2" fill="#FF6A5F" stroke="#111" stroke-width="0.8"/>
<rect x="624.95" y="318.15" width="7.70" height="5.10" fill="none" stroke="#111" stroke-width="0.75" opacity="0.85"/>
<path d="M624.95,320.70h7.70M628.80,316.40V318.15M628.80,323.25V325.00" stroke="#111" stroke-width="0.75" fill="none" opacity="0.85"/>
<text x="637.15" y="322.60" font-size="5.35" fill="#000" stroke="#000" stroke-width="0.12">Clinical acceptance</text>
<rect x="623.85" y="325.80" width="9.9" height="10.2" fill="#00B9C3" stroke="#111" stroke-width="0.8"/>
<rect x="624.95" y="328.35" width="7.70" height="5.10" fill="none" stroke="#111" stroke-width="0.75" opacity="0.85"/>
<path d="M624.95,330.90h7.70M628.80,326.60V328.35M628.80,333.45V335.20" stroke="#111" stroke-width="0.75" fill="none" opacity="0.85"/>
<text x="637.15" y="332.80" font-size="5.35" fill="#000" stroke="#000" stroke-width="0.12">Clinical disapproval</text>
</g>
</svg></body></html>
